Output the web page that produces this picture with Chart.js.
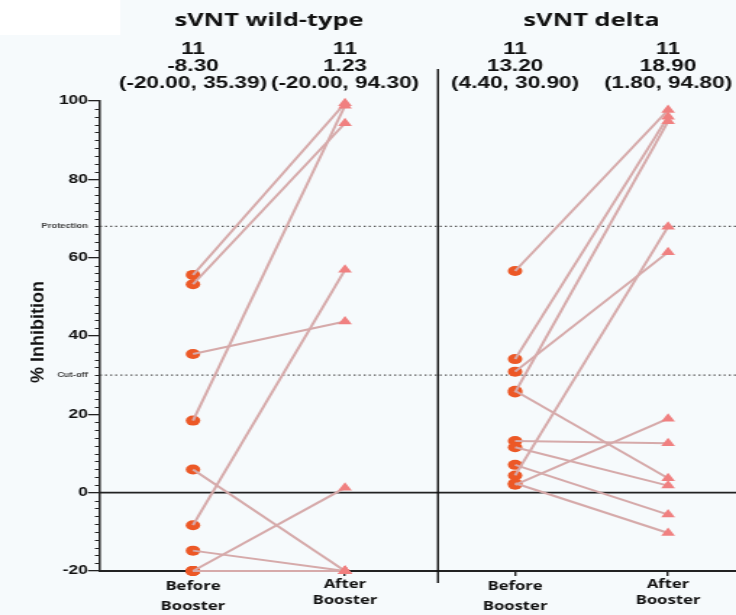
<!DOCTYPE html>
<html>
<head>
<meta charset="utf-8">
<script src="https://cdn.jsdelivr.net/npm/chart.js@4.4.1/dist/chart.umd.min.js"></script>
<style>
  html, body { margin: 0; padding: 0; overflow: hidden; background: rgb(246,250,252); }
  #wrap { width: 508px; height: 615px; transform: scaleX(1.448819); transform-origin: 0 0; }
</style>
</head>
<body>
<div id="wrap"><canvas id="c" width="508" height="615"></canvas></div>
<script>
// ---------- data ----------
const panels = ['sVNT wild-type', 'sVNT delta'];
const categories = [['Before', 'Booster'], ['After', 'Booster']];
const wtBefore    = [55.6, 53.2, 35.39, 18.4, 5.9, -8.3, -14.8, -20, -20, -20, -20];
const wtAfter     = [99.4, 94.3, 43.7, 98.8, -20, 56.9, -20, 1.23, -20, -20, -20];
const deltaBefore = [56.6, 34.1, 30.9, 25.6, 26.0, 13.2, 11.6, 7.1, 4.4, 2.4, 2.0];
const deltaAfter  = [97.7, 96.0, 61.4, 94.8, 3.7, 12.6, 1.8, -5.6, 67.9, -10.3, 18.9];
const statsN      = ['11', '11', '11', '11'];
const statsMedian = ['-8.30', '1.23', '13.20', '18.90'];
const statsIQR    = ['(-20.00, 35.39)', '(-20.00, 94.30)', '(4.40, 30.90)', '(1.80, 94.80)'];
const yTicks = [-20, 0, 20, 40, 60, 80, 100];
const thresholdLabels = ['Protection', 'Cut-off'];
const thresholdValues = [68, 30];

// ---------- styles ----------
const DOT = 'rgb(236,88,38)';
const TRI = 'rgb(240,128,128)';
const LINE = 'rgb(214,170,170)';
const AXIS = '#222';

const datasets = [];
const groups = [
  {axis: 'xL', before: wtBefore, after: wtAfter},
  {axis: 'xR', before: deltaBefore, after: deltaAfter}
];
groups.forEach(g => {
  datasets.push({
    data: g.before.map(v => ({x: 1, y: v})), xAxisID: g.axis, yAxisID: 'y',
    pointStyle: 'circle', pointRadius: 5, backgroundColor: DOT, borderColor: DOT, borderWidth: 0,
    order: 3, clip: false
  });
  g.before.forEach((b, i) => {
    datasets.push({
      data: [{x: 1, y: b}, {x: 2, y: g.after[i]}], xAxisID: g.axis, yAxisID: 'y',
      showLine: true, borderColor: LINE, borderWidth: 2, pointRadius: 0, order: 2, clip: false
    });
  });
  datasets.push({
    data: g.after.map(v => ({x: 2, y: v})), xAxisID: g.axis, yAxisID: 'y',
    pointStyle: 'triangle', pointRadius: 5.5, backgroundColor: TRI, borderColor: TRI, borderWidth: 0,
    order: 1, clip: false
  });
});

function xTickFont(ctx) {
  const first = ctx.tick && ctx.tick.value === 1;
  return {family: 'Open Sans', size: 11.5, weight: 'bold', lineHeight: first ? '20px' : '16px'};
}
function xAxis(weight, min, max) {
  return {
    type: 'linear', position: 'bottom', stack: 'bottomStack', stackWeight: weight,
    min: min, max: max,
    afterBuildTicks: s => { s.ticks = [{value: 1}, {value: 2}]; },
    afterFit: s => { s.height = 44; s.paddingLeft = 0; s.paddingRight = 0; },
    ticks: {
      font: xTickFont, color: '#111', padding: 1, maxRotation: 0, autoSkip: false,
      callback: v => categories[v - 1]
    },
    grid: {drawOnChartArea: false, tickLength: 5, color: AXIS, lineWidth: 1.4},
    border: {color: AXIS, width: 2}
  };
}

const decor = {
  id: 'decor',
  beforeDraw(chart) {
    const ctx = chart.ctx;
    ctx.save();
    ctx.fillStyle = 'rgb(246,250,252)';
    ctx.fillRect(0, 0, chart.width, chart.height);
    ctx.fillStyle = '#ffffff';
    ctx.fillRect(0, 0, 83, 35);
    ctx.restore();
  },
  beforeDatasetsDraw(chart) {
    const ctx = chart.ctx, ca = chart.chartArea, y = chart.scales.y;
    ctx.save();
    ctx.strokeStyle = '#555';
    ctx.lineWidth = 1.3;
    ctx.setLineDash([1.4, 2.1]);
    thresholdValues.forEach(v => {
      const py = y.getPixelForValue(v);
      ctx.beginPath(); ctx.moveTo(ca.left, py); ctx.lineTo(ca.right, py); ctx.stroke();
    });
    ctx.setLineDash([]);
    const p0 = y.getPixelForValue(0);
    ctx.strokeStyle = AXIS; ctx.lineWidth = 1.6;
    ctx.beginPath(); ctx.moveTo(ca.left, p0); ctx.lineTo(ca.right, p0); ctx.stroke();
    ctx.restore();
  },
  afterDraw(chart) {
    const ctx = chart.ctx, y = chart.scales.y, xL = chart.scales.xL, xR = chart.scales.xR;
    ctx.save();
    ctx.strokeStyle = AXIS; ctx.lineWidth = 1;
    for (let v = y.min; v <= y.max; v += 2) {
      if (v % 20 === 0) continue;
      const py = Math.round(y.getPixelForValue(v)) + 0.5;
      ctx.beginPath(); ctx.moveTo(y.right - 3.5, py); ctx.lineTo(y.right, py); ctx.stroke();
    }
    ctx.fillStyle = '#444';
    ctx.font = 'bold 6.5px "Liberation Sans", Arial, sans-serif';
    ctx.textAlign = 'right'; ctx.textBaseline = 'middle';
    thresholdValues.forEach((v, i) => {
      ctx.fillText(thresholdLabels[i], y.right - 8.3, y.getPixelForValue(v));
    });
    ctx.strokeStyle = '#111'; ctx.lineWidth = 1.4;
    ctx.beginPath(); ctx.moveTo(xR.left, 69); ctx.lineTo(xR.left, 583); ctx.stroke();
    const scalesArr = [xL, xR];
    ctx.fillStyle = '#111';
    ctx.textAlign = 'center';
    scalesArr.forEach((sc, p) => {
      const c1 = sc.getPixelForValue(1), c2 = sc.getPixelForValue(2);
      ctx.font = 'bold 17.5px "Open Sans", sans-serif';
      ctx.fillText(panels[p], (c1 + c2) / 2, 21);
      ctx.font = 'bold 15.6px "Liberation Sans", Arial, sans-serif';
      [c1, c2].forEach((cx, k) => {
        const idx = p * 2 + k;
        ctx.fillText(statsN[idx], cx, 50);
        ctx.fillText(statsMedian[idx], cx, 67);
        ctx.fillText(statsIQR[idx], cx, 84);
      });
    });
    ctx.save();
    ctx.translate(26.4, 332);
    ctx.rotate(-Math.PI / 2);
    ctx.scale(1, 0.75);
    ctx.font = 'bold 18px "Liberation Sans Narrow", "Liberation Sans", Arial, sans-serif';
    ctx.textAlign = 'center'; ctx.textBaseline = 'middle';
    ctx.fillStyle = '#111';
    ctx.fillText('% Inhibition', 0, 0);
    ctx.restore();
    ctx.restore();
  }
};

new Chart(document.getElementById('c'), {
  type: 'scatter',
  data: {datasets: datasets},
  options: {
    responsive: false,
    devicePixelRatio: 1,
    animation: false,
    layout: {autoPadding: false, padding: {top: 101, left: 0, right: 0, bottom: 0}},
    plugins: {legend: {display: false}, tooltip: {enabled: false}},
    scales: {
      xL: xAxis(233.3, 0.388, 2.612),
      xR: xAxis(205.7, 0.496, 2.444),
      y: {
        type: 'linear', position: 'left', min: -20, max: 100,
        afterBuildTicks: s => { s.ticks = yTicks.map(v => ({value: v})); },
        afterFit: s => { s.width = 69; },
        ticks: {font: {family: 'Liberation Sans', size: 12, weight: 'bold'}, color: '#111', padding: 0},
        grid: {drawOnChartArea: false, tickLength: 8.3, color: AXIS, lineWidth: 1.3},
        border: {color: AXIS, width: 1.5}
      }
    }
  },
  plugins: [decor]
});
</script>
</body>
</html>
